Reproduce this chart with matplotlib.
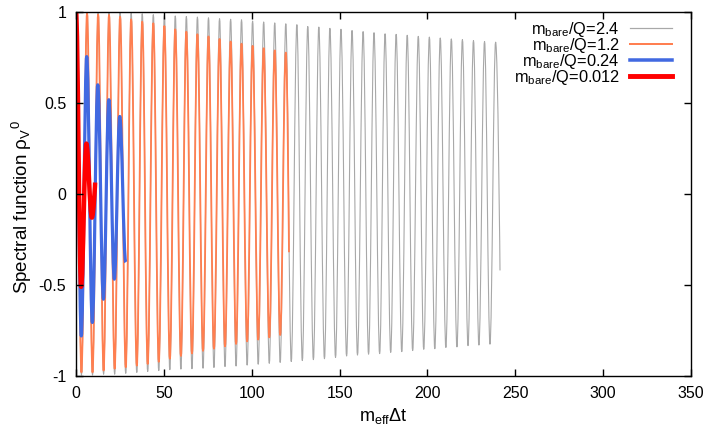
import numpy as np
import matplotlib
matplotlib.use("Agg")
import matplotlib.pyplot as plt
from matplotlib.ticker import MultipleLocator, FuncFormatter
from matplotlib.path import Path
from matplotlib.patches import PathPatch
from matplotlib.lines import Line2D

# extrema of each curve (time, value)
gray_peak_t = [0, 6.3, 12.6, 18.8, 25.1, 31.4, 37.7, 44.0, 50.3, 56.5, 62.8, 69.1, 75.4,
               81.7, 88.0, 94.2, 100.5, 106.8, 113.1, 119.4, 125.7, 131.9, 138.2, 144.5,
               150.8, 157.1, 163.4, 169.6, 175.9, 182.2, 188.5, 194.8, 201.1, 207.3,
               213.6, 219.9, 226.2, 232.5, 238.8]
gray_peak_v = [1.0, 1.0, 1.0, 0.998, 0.995, 0.993, 0.99, 0.985, 0.98, 0.978, 0.975, 0.972,
               0.968, 0.963, 0.96, 0.957, 0.95, 0.945, 0.94, 0.935, 0.93, 0.92, 0.917, 0.91,
               0.905, 0.898, 0.892, 0.886, 0.88, 0.877, 0.872, 0.866, 0.862, 0.857, 0.852,
               0.848, 0.843, 0.838, 0.834]
gray_trough_t = [3.1, 9.4, 15.7, 22.0, 28.3, 34.6, 40.8, 47.1, 53.4, 59.7, 66.0, 72.3, 78.5,
                 84.8, 91.1, 97.4, 103.7, 110.0, 116.2, 122.5, 128.8, 135.1, 141.4, 147.7,
                 154.0, 160.2, 166.5, 172.8, 179.1, 185.4, 191.6, 197.9, 204.2, 210.5,
                 216.8, 223.1, 229.3, 235.6]
gray_trough_v = [-0.995, -0.995, -0.99, -0.99, -0.985, -0.98, -0.975, -0.97, -0.965, -0.962,
                 -0.96, -0.957, -0.953, -0.948, -0.945, -0.94, -0.935, -0.93, -0.925, -0.92,
                 -0.915, -0.91, -0.905, -0.898, -0.89, -0.885, -0.88, -0.877, -0.87, -0.866,
                 -0.86, -0.853, -0.85, -0.843, -0.84, -0.833, -0.83, -0.825]
gray_end = (241.3, -0.42)

orange_peak_t = [0, 6.3, 12.6, 18.8, 25.1, 31.4, 37.7, 44.0, 50.3, 56.5, 62.8, 69.1, 75.4,
                 81.7, 88.0, 94.2, 100.5, 106.8, 113.1, 119.4]
orange_peak_v = [1.0, 0.993, 0.986, 0.984, 0.974, 0.96, 0.947, 0.938, 0.923, 0.905, 0.892,
                 0.878, 0.866, 0.852, 0.838, 0.826, 0.814, 0.801, 0.789, 0.777]
orange_trough_t = [3.1, 9.4, 15.7, 22.0, 28.3, 34.6, 40.8, 47.1, 53.4, 59.7, 66.0, 72.3,
                   78.5, 84.8, 91.1, 97.4, 103.7, 110.0, 116.2]
orange_trough_v = [-0.98, -0.98, -0.97, -0.96, -0.952, -0.943, -0.934, -0.922, -0.905,
                   -0.89, -0.876, -0.862, -0.85, -0.837, -0.824, -0.81, -0.8, -0.788,
                   -0.775]
orange_end = (121.2, -0.32)

blue_t = [0, 3.0, 6.1, 9.3, 12.4, 15.6, 18.7, 21.8, 24.9, 28.3]
blue_v = [1.0, -0.78, 0.755, -0.706, 0.6, -0.578, 0.518, -0.468, 0.426, -0.375]

red_t = [0, 2.9, 5.9, 9.0]
red_v = [1.0, -0.51, 0.277, -0.13]
red_end = (10.9, 0.063)

labels = ["m$_{bare}$/Q=2.4", "m$_{bare}$/Q=1.2", "m$_{bare}$/Q=0.24", "m$_{bare}$/Q=0.012"]
colors = ['#a8a8a8', '#ff7f50', '#4169e1', '#ff0000']
widths = [0.8, 1.3, 2.3, 3.2]


def merge(t1, v1, t2, v2):
    t = np.array(t1 + t2)
    v = np.array(v1 + v2)
    order = np.argsort(t)
    return list(t[order]), list(v[order])


def wave_path(t, v, end=None):
    # smooth curve through the extrema: flat tangent at each turning point
    verts = [(t[0], v[0])]
    codes = [Path.MOVETO]
    for i in range(1, len(t)):
        dt = t[i] - t[i - 1]
        verts += [(t[i - 1] + 0.364 * dt, v[i - 1]), (t[i] - 0.364 * dt, v[i]), (t[i], v[i])]
        codes += [Path.CURVE4] * 3
    if end is not None:
        dt = end[0] - t[-1]
        verts += [(t[-1] + 0.5 * dt, v[-1]), end, end]
        codes += [Path.CURVE4] * 3
    return Path(verts, codes)


plt.rcParams['font.family'] = ['Liberation Sans', 'DejaVu Sans']
plt.rcParams['mathtext.default'] = 'regular'
plt.rcParams['axes.unicode_minus'] = False

fig = plt.figure(figsize=(7.1, 4.29), dpi=100)
ax = fig.add_axes([76 / 710, 1 - 376 / 429, (691 - 76) / 710, (376 - 12) / 429])

gt, gv = merge(gray_peak_t, gray_peak_v, gray_trough_t, gray_trough_v)
ot, ov = merge(orange_peak_t, orange_peak_v, orange_trough_t, orange_trough_v)
curves = [(gt, gv, gray_end), (ot, ov, orange_end), (blue_t, blue_v, None),
          (red_t, red_v, red_end)]

for (t, v, end), c, w in zip(curves, colors, widths):
    ax.add_patch(PathPatch(wave_path(t, v, end), fill=False, edgecolor=c, lw=w,
                           capstyle='butt', joinstyle='round'))

ax.set_xlim(0, 350)
ax.set_ylim(-1, 1)
ax.xaxis.set_major_locator(MultipleLocator(50))
ax.yaxis.set_major_locator(MultipleLocator(0.5))
ax.yaxis.set_major_formatter(FuncFormatter(lambda v, p: "%g" % v))
ax.tick_params(direction='in', top=True, right=True, length=5, width=1,
               labelsize=11.5, pad=7)
for s in ax.spines.values():
    s.set_linewidth(1)

ax.set_xlabel("m$_{eff}$Δt", fontsize=13, labelpad=4)
ax.set_ylabel("Spectral function ρ$_V{}^0$", fontsize=13.5)
ax.yaxis.set_label_coords(-0.068, 0.463)

handles = [Line2D([], [], color=c, lw=w * 1.1) for c, w in zip(colors, widths)]
ax.legend(handles, labels, loc='upper right', bbox_to_anchor=(1 - 4 / 615, 1.019),
          frameon=False, markerfirst=False, fontsize=11.8, handlelength=2.6,
          handletextpad=0.6, labelspacing=-0.18, borderaxespad=0.5, borderpad=0.4)

fig.savefig("out.png", dpi=100)
